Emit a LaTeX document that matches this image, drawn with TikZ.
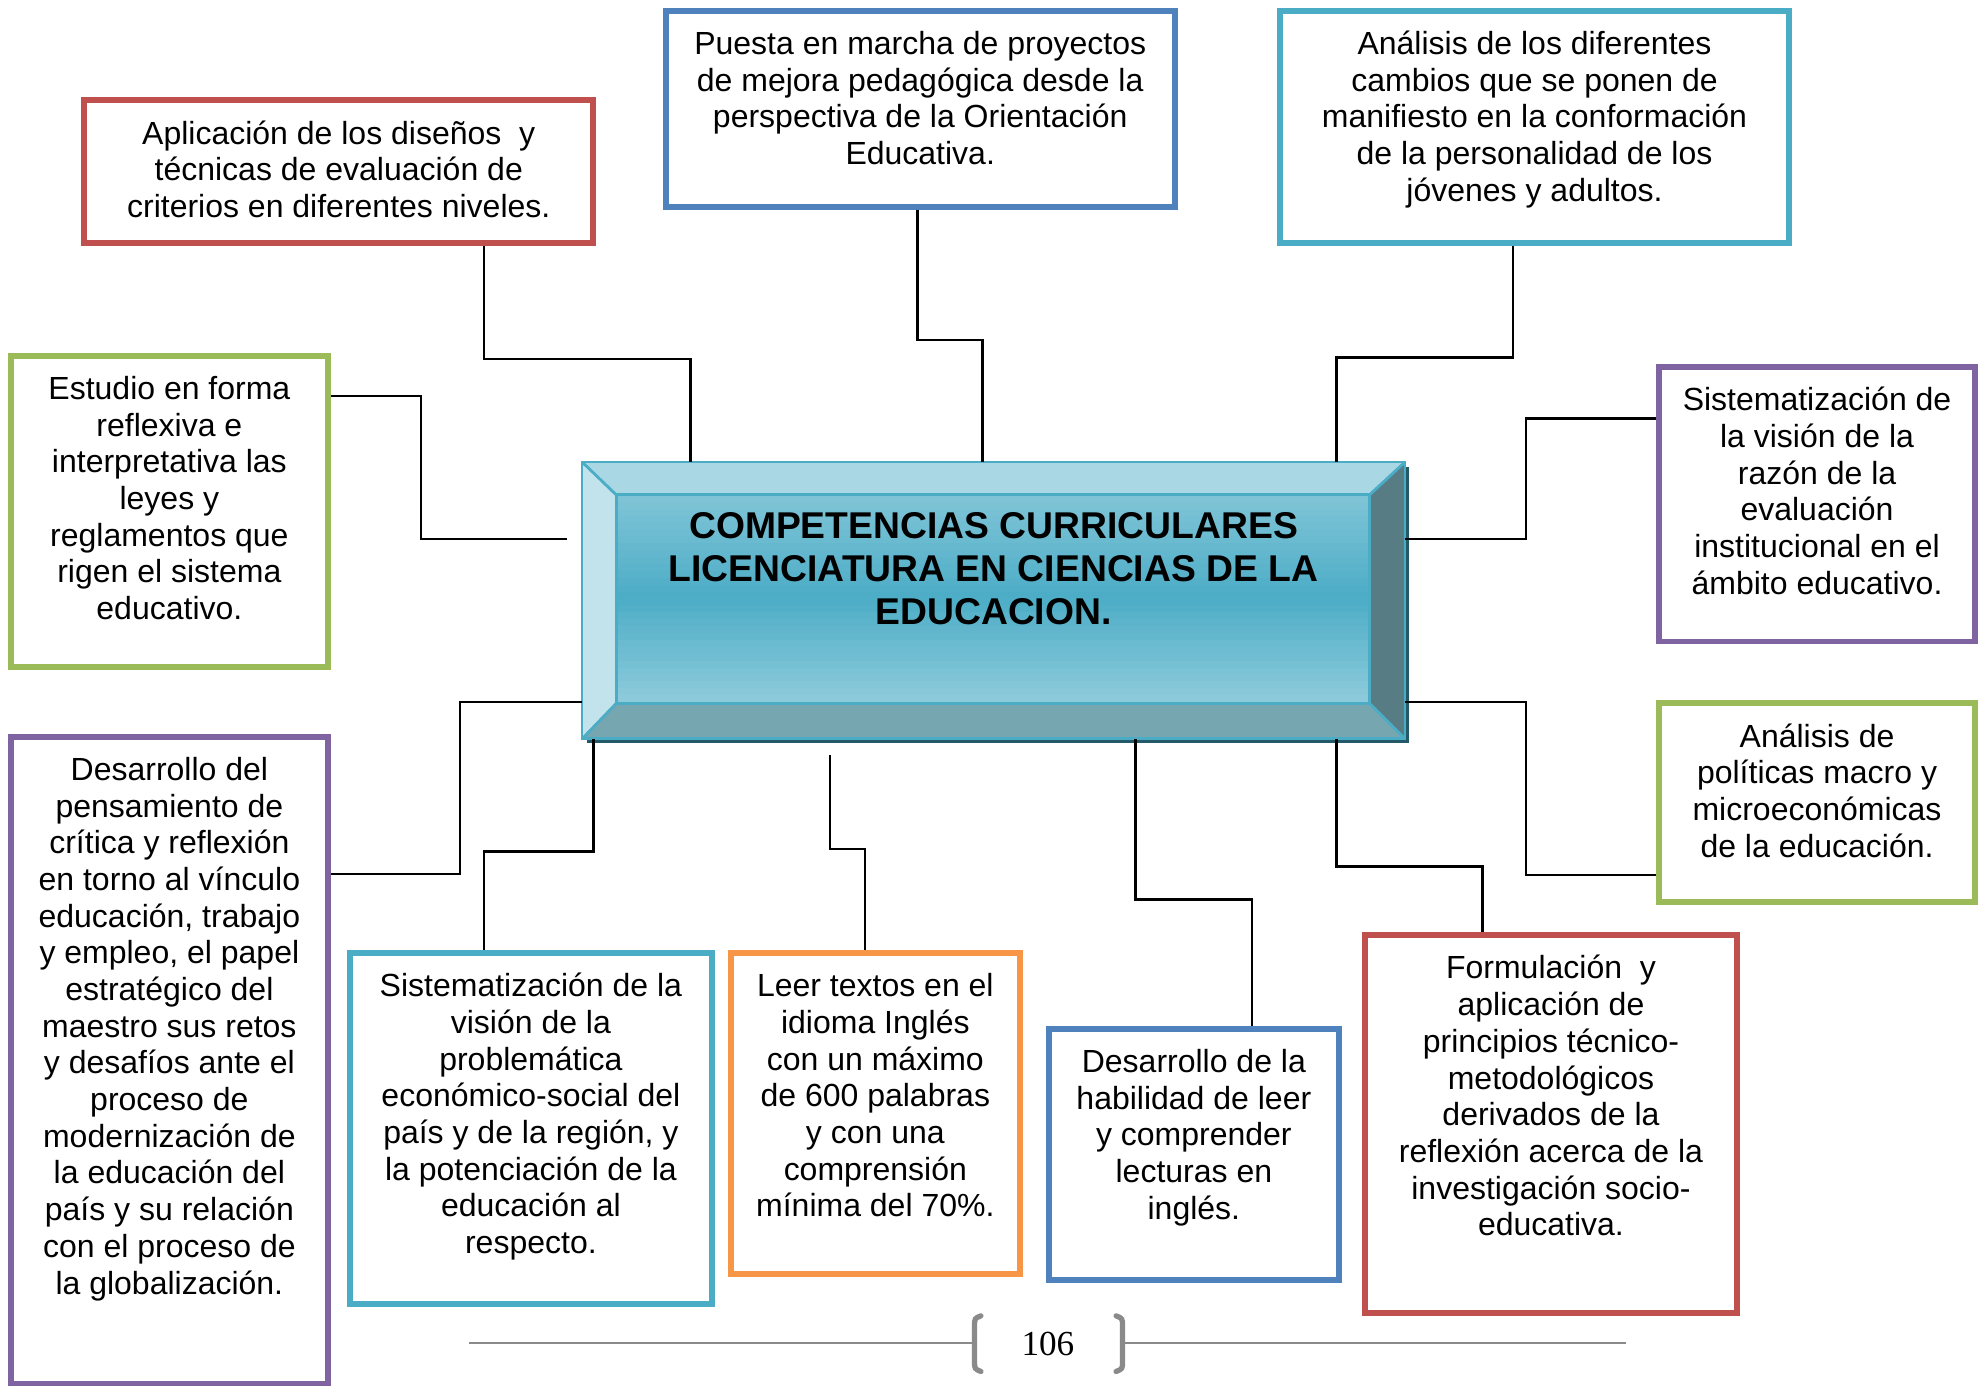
\documentclass[tikz,border=0pt]{standalone}
\usepackage{fontspec}
\setmainfont{Liberation Sans}
\newfontfamily\serifa{Liberation Serif}
\usetikzlibrary{calc}
\definecolor{rojo}{HTML}{C0504D}
\definecolor{azul}{HTML}{4F81BD}
\definecolor{celeste}{HTML}{4BACC6}
\definecolor{verde}{HTML}{9BBB59}
\definecolor{morado}{HTML}{8064A2}
\definecolor{naranja}{HTML}{F79646}
\definecolor{gris}{HTML}{8A8A8A}
\definecolor{sombra}{HTML}{245A68}
\definecolor{biselsup}{HTML}{A9D7E4}
\definecolor{biselizq}{HTML}{C2E3EC}
\definecolor{biselder}{HTML}{577C84}
\definecolor{biselinf}{HTML}{76A6B0}
\newcommand{\un}{0.01264cm}
\tikzset{
  caja/.style n args={3}{draw=#1, line width=1.7pt, fill=white, inner sep=0pt,
    minimum width=#2*\un, minimum height=#3*\un},
  texto/.style={font=\fontsize{9.1}{10.43}\selectfont, align=center, anchor=north, inner sep=0pt},
  linea/.style={line width=0.7pt},
  pie/.style={draw=gris, line width=0.6pt},
}
\begin{document}
\begin{tikzpicture}[x=\un, y=-\un]
      \useasboundingbox (0,0) rectangle (1568,1096);
      % recuadros de las competencias
      \node[caja={rojo}{403}{113}] (A) at (268,136) {};
      \node[caja={azul}{403}{155}] (B) at (728,86) {};
      \node[caja={celeste}{403}{184}] (C) at (1214,100.5) {};
      \node[caja={verde}{251}{246}] (D) at (134,404.5) {};
      \node[caja={morado}{250}{217}] (E) at (1437.5,399) {};
      \node[caja={verde}{250}{157}] (F) at (1437.5,635) {};
      \node[caja={morado}{251}{512}] (G) at (134,839) {};
      \node[caja={celeste}{286}{278}] (H) at (420,893) {};
      \node[caja={naranja}{229}{254}] (I) at (692.5,881) {};
      \node[caja={azul}{229}{199}] (J) at (944.5,913.5) {};
      \node[caja={rojo}{294}{299}] (K) at (1227,889.5) {};
      \node[texto] (A-t) at ($(A.north)+(0,16)$) {\strut Aplicación de los diseños\ \ y\\ técnicas de evaluación de\\ criterios en diferentes niveles.};
      \node[texto] (B-t) at ($(B.north)+(0,16)$) {\strut Puesta en marcha de proyectos\\ de mejora pedagógica desde la\\ perspectiva de la Orientación\\ Educativa.};
      \node[texto] (C-t) at ($(C.north)+(0,16)$) {\strut Análisis de los diferentes\\ cambios que se ponen de\\ manifiesto en la conformación\\ de la personalidad de los\\ jóvenes y adultos.};
      \node[texto] (D-t) at ($(D.north)+(0,16)$) {\strut Estudio en forma\\ reflexiva e\\ interpretativa las\\ leyes y\\ reglamentos que\\ rigen el sistema\\ educativo.};
      \node[texto] (E-t) at ($(E.north)+(0,16)$) {\strut Sistematización de\\ la visión de la\\ razón de la\\ evaluación\\ institucional en el\\ ámbito educativo.};
      \node[texto] (F-t) at ($(F.north)+(0,16)$) {\strut Análisis de\\ políticas macro y\\ microeconómicas\\ de la educación.};
      \node[texto] (G-t) at ($(G.north)+(0,16)$) {\strut Desarrollo del\\ pensamiento de\\ crítica y reflexión\\ en torno al vínculo\\ educación, trabajo\\ y empleo, el papel\\ estratégico del\\ maestro sus retos\\ y desafíos ante el\\ proceso de\\ modernización de\\ la educación del\\ país y su relación\\ con el proceso de\\ la globalización.};
      \node[texto] (H-t) at ($(H.north)+(0,16)$) {\strut Sistematización de la\\ visión de la\\ problemática\\ económico-social del\\ país y de la región, y\\ la potenciación de la\\ educación al\\ respecto.};
      \node[texto] (I-t) at ($(I.north)+(0,16)$) {\strut Leer textos en el\\ idioma Inglés\\ con un máximo\\ de 600 palabras\\ y con una\\ comprensión\\ mínima del 70\%.};
      \node[texto] (J-t) at ($(J.north)+(0,16)$) {\strut Desarrollo de la\\ habilidad de leer\\ y comprender\\ lecturas en\\ inglés.};
      \node[texto] (K-t) at ($(K.north)+(0,16)$) {\strut Formulación\ \ y\\ aplicación de\\ principios técnico-\\ metodológicos\\ derivados de la\\ reflexión acerca de la\\ investigación socio-\\ educativa.};
      % recuadro central con bisel
      \node[minimum width=650*\un, minimum height=218*\un, inner sep=0pt] (comp) at (786,475) {};
      \coordinate (inw) at ($(comp.north west)+(27,26)$);
      \coordinate (ine) at ($(comp.north east)+(-28,26)$);
      \coordinate (ise) at ($(comp.south east)+(-28,-28)$);
      \coordinate (isw) at ($(comp.south west)+(27,-28)$);
      \fill[sombra] ($(comp.north west)+(4,4)$) rectangle ($(comp.south east)+(3,3)$);
      \fill[biselsup] (comp.north west) -- (comp.north east) -- (ine) -- (inw) -- cycle;
      \fill[biselizq] (comp.north west) -- (inw) -- (isw) -- (comp.south west) -- cycle;
      \fill[biselder] (comp.north east) -- (comp.south east) -- (ise) -- (ine) -- cycle;
      \fill[biselinf] (comp.south west) -- (isw) -- (ise) -- (comp.south east) -- cycle;
      \foreach \k in {0,...,29}{
        \pgfmathtruncatemacro{\p}{\k<15 ? 70+30*(\k+0.5)/15 : 100-37*(\k-14.5)/15}
        \fill[celeste!\p!white] ($(inw)+(0,{\k*164/30})$) rectangle ($(ine)+(0,{(\k+1)*164/30+0.6})$);
      }
      \draw[celeste, line width=0.8pt] (comp.north west) rectangle (comp.south east);
      \draw[celeste, line width=0.8pt] (inw) rectangle (ise);
      \draw[celeste, line width=0.8pt] (comp.north west) -- (inw) (comp.north east) -- (ine)
        (comp.south east) -- (ise) (comp.south west) -- (isw);
      \node[font=\bfseries\fontsize{10.6}{12.2}\selectfont, align=center, inner sep=0pt] (titulo) at (786,450)
        {COMPETENCIAS CURRICULARES\\ LICENCIATURA EN CIENCIAS DE LA\\ EDUCACION.};
      % conectores
      \draw[linea] ($(A.south)+(115,0)$) -- ++(0,89) -| ($(comp.north west)+(86,0)$);
      \draw[linea] ($(B.south)+(-2,0)$) -- ++(0,103) -| ($(comp.north west)+(317,0)$);
      \draw[linea] ($(C.south)+(-17,0)$) -- ++(0,88) -| ($(comp.north west)+(597,0)$);
      \draw[linea] ($(D.north east)+(0,34)$) -- ++(71,0) |- ($(comp.north west)+(-12,61)$);
      \draw[linea] ($(E.north west)+(0,43)$) -- ++(-103,0) |- ($(comp.north east)+(0,61)$);
      \draw[linea] ($(F.north west)+(0,138)$) -- ++(-103,0) |- ($(comp.south east)+(0,-29)$);
      \draw[linea] ($(G.north east)+(0,111)$) -- ++(102,0) |- ($(comp.south west)+(0,-29)$);
      \draw[linea] ($(H.north)+(-37,0)$) -- ++(0,-78) -| ($(comp.south west)+(9,0)$);
      \draw[linea] ($(I.north)+(-8,0)$) -- ++(0,-80) -| ($(comp.south west)+(196,13)$);
      \draw[linea] ($(J.north)+(46,0)$) -- ++(0,-100) -| ($(comp.south west)+(438,0)$);
      \draw[linea] ($(K.north)+(-54,0)$) -- ++(0,-52) -| ($(comp.south west)+(597,0)$);
      % pie de pagina
      \node[font=\serifa\fontsize{10}{12}\selectfont, inner sep=0pt] (pag) at (829,1063) {106};
      \draw[pie] (371,1062.5) -- (770,1062.5);
      \draw[pie] (889,1062.5) -- (1286,1062.5);
      \draw[draw=gris, line width=1.5pt, line cap=round] (776,1041) .. controls (771,1043) .. (771,1049) -- (771,1077) .. controls (771,1083) .. (776,1085);
      \draw[draw=gris, line width=1.5pt, line cap=round] (883,1041) .. controls (888,1043) .. (888,1049) -- (888,1077) .. controls (888,1083) .. (883,1085);
\end{tikzpicture}
\end{document}
